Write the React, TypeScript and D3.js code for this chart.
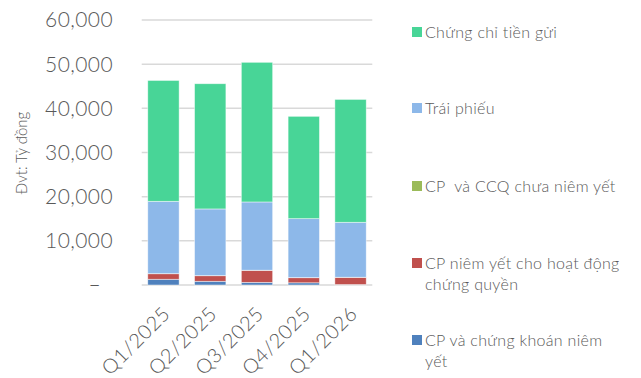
import React from "react";
import * as d3 from "d3";

const categories = ["Q1/2025", "Q2/2025", "Q3/2025", "Q4/2025", "Q1/2026"];
const seriesNames = [
  "CP và chứng khoán niêm yết",
  "CP niêm yết cho hoạt động chứng quyền",
  "CP  và CCQ chưa niêm yết",
  "Trái phiếu",
  "Chứng chỉ tiền gửi",
];
const listedStocks = [1300, 840, 600, 500, 100];
const warrantStocks = [1250, 1260, 2730, 1150, 1640];
const unlistedStocks = [20, 20, 20, 20, 20];
const bonds = [16380, 15100, 15450, 13350, 12440];
const deposits = [27360, 28350, 31620, 23170, 27820];
const seriesColors = ["#4F81BD", "#C0504D", "#9BBB59", "#8DB8E9", "#48D597"];
const yTicks = [0, 10000, 20000, 30000, 40000, 50000, 60000];
const legendLines = [
  ["Chứng chỉ tiền gửi"],
  ["Trái phiếu"],
  ["CP  và CCQ chưa niêm yết"],
  ["CP niêm yết cho hoạt động", "chứng quyền"],
  ["CP và chứng khoán niêm", "yết"],
];
const legendSeries = [4, 3, 2, 1, 0];
const legendY = [32, 108, 186, 263, 340];

const W = 641;
const H = 378;
const FONT = "Lato, 'Open Sans', sans-serif";
const TEXT = "#595959";

export default function App() {
  const seriesValues = [listedStocks, warrantStocks, unlistedStocks, bonds, deposits];
  const rows = categories.map((c, i) => {
    const r: any = { cat: c };
    seriesValues.forEach((s, k) => (r["s" + k] = s[i]));
    return r;
  });
  const stacked = d3.stack().keys(seriesValues.map((_, k) => "s" + k))(rows);

  const x = d3.scaleBand().domain(categories).range([141.7, 372.3]).paddingInner(0.33).paddingOuter(0.13);
  const y = d3.scaleLinear().domain([0, 60000]).range([285, 20]);
  const fmt = d3.format(",");

  return (
    <svg width={W} height={H} style={{ position: "absolute", left: 0, top: 0, background: "#fff" }}>
      <rect width={W} height={H} fill="#fff" />
      {yTicks.map((t) => (
        <g key={t}>
          <line x1={141.7} x2={372.3} y1={y(t)} y2={y(t)} stroke="#D9D9D9" strokeWidth={1.5} />
          <text
            x={t === 0 ? 101 : 113}
            y={y(t)}
            dy="0.35em"
            textAnchor="end"
            fontFamily={FONT}
            fontWeight={300}
            fontSize={21}
            letterSpacing={0.4}
            fill={TEXT}
          >
            {t === 0 ? "–" : fmt(t)}
          </text>
        </g>
      ))}
      <text
        transform="translate(27,153) rotate(-90)"
        textAnchor="middle"
        fontFamily={FONT}
        fontWeight={300}
        fontSize={15}
        fill={TEXT}
      >
        Đvt: Tỷ đồng
      </text>
      {stacked.map((layer, k) => (
        <g key={k} fill={seriesColors[k]}>
          {layer.map((d, i) => (
            <rect
              key={i}
              x={x(categories[i])!}
              width={x.bandwidth()}
              y={y(d[1])}
              height={Math.max(0, y(d[0]) - y(d[1]))}
              stroke="#fff"
              strokeOpacity={0.6}
              strokeWidth={0.75}
            />
          ))}
        </g>
      ))}
      {categories.map((c) => (
        <text
          key={c}
          transform={`translate(${x(c)! + x.bandwidth() / 2 + 8},${315}) rotate(-45)`}
          textAnchor="end"
          fontFamily={FONT}
          fontWeight={300}
          fontSize={20}
          letterSpacing={0.6}
          fill={TEXT}
        >
          {c}
        </text>
      ))}
      {legendSeries.map((s, j) => (
        <g key={s}>
          <rect x={412} y={legendY[j] - 5} width={10} height={10} fill={seriesColors[s]} />
          {legendLines[j].map((line, li) => (
            <text
              key={li}
              x={425}
              y={legendY[j] + li * 21}
              dy="0.35em"
              fontFamily={FONT}
              fontWeight={300}
              fontSize={16}
              letterSpacing={0.3}
              fill={TEXT}
              style={{ whiteSpace: "pre" }}
            >
              {line}
            </text>
          ))}
        </g>
      ))}
    </svg>
  );
}
